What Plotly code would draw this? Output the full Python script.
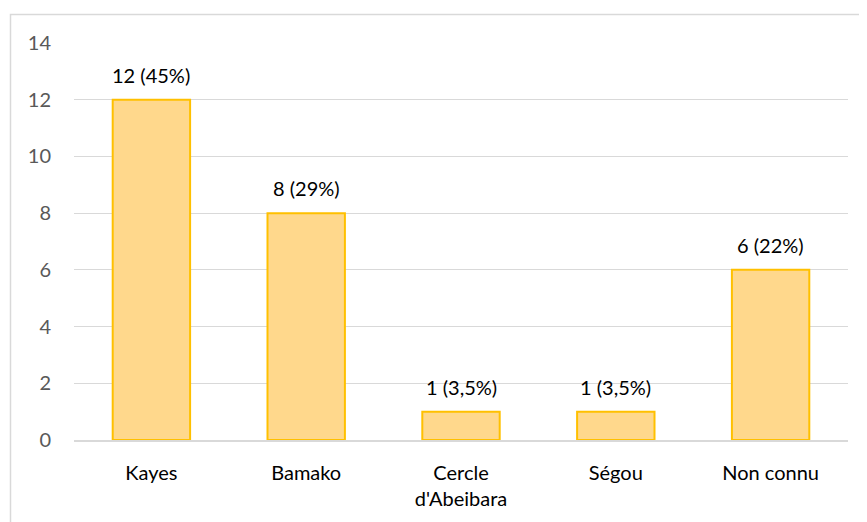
import plotly.graph_objects as go

categories = ["Kayes", "Bamako", "Cercle<br>d'Abeibara", "Ségou", "Non connu"]
values = [12, 8, 1, 1, 6]
labels = ["12 (45%)", "8 (29%)", "1 (3,5%)", "1 (3,5%)", "6 (22%)"]
yticks = [0, 2, 4, 6, 8, 10, 12, 14]

W, H = 867, 522
OFF = 8  # page body margin
L, R, T, B = 74 - OFF, 19 + OFF, 43 - OFF, 82 + OFF
pw = W - L - R
ph = H - T - B
FS = 20

fig = go.Figure(go.Bar(
    x=categories, y=values,
    marker=dict(color="#FFD88C", line=dict(color="#FFC000", width=2)),
    width=0.5,
))

for c, v, t in zip(categories, values, labels):
    fig.add_annotation(x=c, y=v, text=t, showarrow=False, yanchor="bottom",
                       yshift=11, font=dict(color="#000000", size=FS))

fig.update_layout(
    width=W, height=H,
    margin=dict(l=L, r=R, t=T, b=B, autoexpand=False),
    paper_bgcolor="white", plot_bgcolor="white",
    font=dict(family="Lato, Noto Sans, sans-serif", size=FS, color="#000000"),
    showlegend=False,
    xaxis=dict(showgrid=False, showline=True, linecolor="#D9D9D9", linewidth=2,
               tickfont=dict(color="#000000", size=FS), ticks="",
               ticklabelstandoff=14),
    yaxis=dict(range=[0, 14], tickvals=yticks, showgrid=True, gridcolor="#D9D9D9",
               gridwidth=1, zeroline=False, showline=False,
               tickfont=dict(color="#595959", size=FS), ticklabelstandoff=22),
    shapes=[dict(type="rect", xref="paper", yref="paper",
                 x0=(10.5 - OFF - L) / pw, x1=(W + 5 - L) / pw,
                 y0=-(H + 5 - (T + ph)) / ph, y1=(T + ph - (14.5 - OFF)) / ph,
                 line=dict(color="#D9D9D9", width=1.5), layer="below")],
)

fig.write_html("out.html")
